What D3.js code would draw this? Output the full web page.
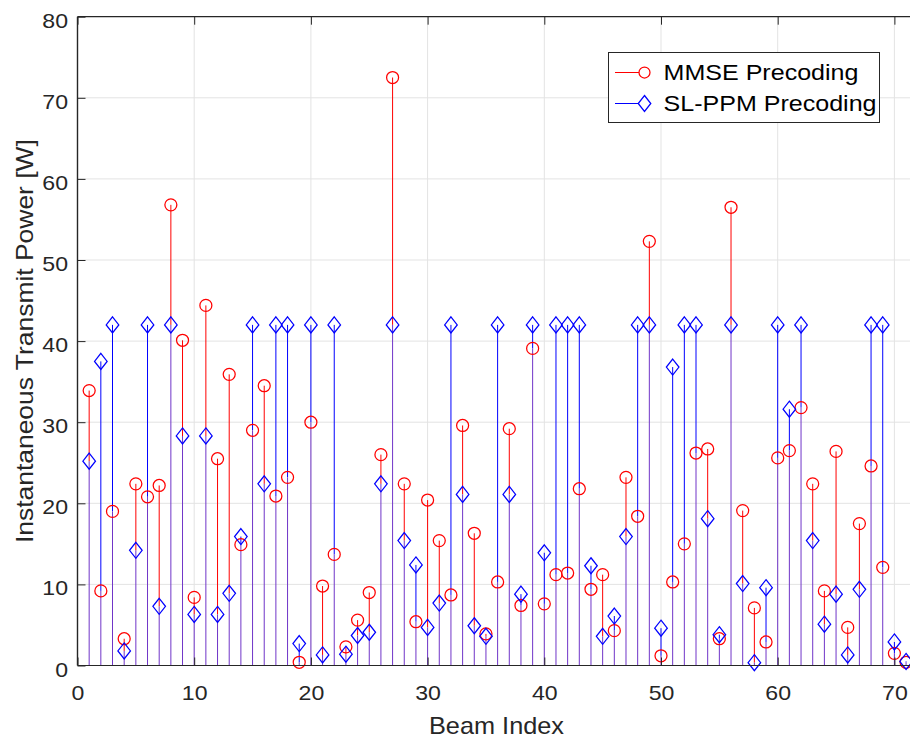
<!DOCTYPE html>
<html>
<head>
<meta charset="utf-8">
<script src="https://cdn.jsdelivr.net/npm/d3@7"></script>
<style>
  html, body { margin: 0; padding: 0; background: #fff; }
  svg { display: block; font-family: "Liberation Sans", Arial, sans-serif; }
</style>
</head>
<body>
<svg id="chart" width="910" height="739"></svg>
<script>
// Beam indices 1..71
const beams = d3.range(1, 72);

// Instantaneous transmit power per beam [W]
const mmsePower = [
  33.9, 9.2, 19.0, 3.3, 22.4, 20.8, 22.2, 56.8, 40.1, 8.4,
  44.4, 25.5, 35.9, 14.9, 29.0, 34.5, 20.9, 23.2, 0.4, 30.0,
  9.8, 13.7, 2.3, 5.6, 9.0, 26.0, 72.5, 22.4, 5.4, 20.4,
  15.4, 8.7, 29.6, 16.3, 3.9, 10.3, 29.2, 7.4, 39.1, 7.6,
  11.2, 11.4, 21.8, 9.4, 11.2, 4.3, 23.2, 18.4, 52.3, 1.2,
  10.3, 15.0, 26.2, 26.7, 3.3, 56.5, 19.1, 7.1, 2.9, 25.6,
  26.5, 31.8, 22.4, 9.2, 26.4, 4.7, 17.5, 24.6, 12.1, 1.5,
  0.4
];
const slppmPower = [
  25.2, 37.5, 42, 1.8, 14.2, 42, 7.3, 42, 28.3, 6.3,
  28.3, 6.3, 8.9, 15.9, 42, 22.4, 42, 42, 2.7, 42,
  1.3, 42, 1.4, 3.7, 4.1, 22.4, 42, 15.4, 12.4, 4.7,
  7.7, 42, 21.1, 4.9, 3.6, 42, 21.1, 8.8, 42, 13.9,
  42, 42, 42, 12.3, 3.6, 6.1, 15.9, 42, 42, 4.6,
  36.8, 42, 42, 18.1, 3.8, 42, 10.1, 0.35, 9.6, 42,
  31.6, 42, 15.4, 5.1, 8.8, 1.3, 9.4, 42, 42, 2.9,
  0.5
];

const xTicks = [0, 10, 20, 30, 40, 50, 60, 70];
const yTicks = [0, 10, 20, 30, 40, 50, 60, 70, 80];
const seriesNames = ["MMSE Precoding", "SL-PPM Precoding"];

(function draw() {
  const axisColor = "#262626";
  const red = "#ff0000", blue = "#0000ff", overlap = "#7035c8";

  const svg = d3.select("#chart");
  const pL = 77.5, pT = 16.7, pB = 665.5;
  const x = d3.scaleLinear().domain([0, 72]).range([pL, pL + 72 * 11.67]);
  const y = d3.scaleLinear().domain([0, 80]).range([pB, pT]);
  const pR = x(72);

  // grid
  const grid = svg.append("g");
  grid.selectAll("line.gx").data(xTicks.filter(d => d > 0)).join("line")
    .attr("x1", d => x(d)).attr("x2", d => x(d))
    .attr("y1", pT).attr("y2", pB)
    .attr("stroke", "#e3e3e3").attr("stroke-width", 1);
  grid.selectAll("line.gy").data(yTicks.filter(d => d > 0 && d < 80)).join("line")
    .attr("x1", pL).attr("x2", pR)
    .attr("y1", d => y(d)).attr("y2", d => y(d))
    .attr("stroke", "#e3e3e3").attr("stroke-width", 1);

  const rows = beams.map((b, i) => ({ b, m: mmsePower[i], s: slppmPower[i] }));

  // stems: exclusive upper parts in series colour, shared lower part in blend
  const stems = svg.append("g").attr("stroke-width", 1);
  stems.selectAll("line.r").data(rows.filter(d => d.m > d.s)).join("line")
    .attr("x1", d => x(d.b)).attr("x2", d => x(d.b))
    .attr("y1", d => y(d.s)).attr("y2", d => y(d.m)).attr("stroke", red);
  stems.selectAll("line.bl").data(rows.filter(d => d.s > d.m)).join("line")
    .attr("x1", d => x(d.b)).attr("x2", d => x(d.b))
    .attr("y1", d => y(d.m)).attr("y2", d => y(d.s)).attr("stroke", blue);
  stems.selectAll("line.ov").data(rows).join("line")
    .attr("x1", d => x(d.b)).attr("x2", d => x(d.b))
    .attr("y1", y(0)).attr("y2", d => y(Math.min(d.m, d.s))).attr("stroke", overlap);

  // markers
  const diamond = (cx, cy) => `M${cx},${cy - 8}L${cx + 6.3},${cy}L${cx},${cy + 8}L${cx - 6.3},${cy}Z`;
  svg.append("g").selectAll("circle").data(rows).join("circle")
    .attr("cx", d => x(d.b)).attr("cy", d => y(d.m)).attr("r", 6)
    .attr("fill", "none").attr("stroke", red).attr("stroke-width", 1.25);
  svg.append("g").selectAll("path").data(rows).join("path")
    .attr("d", d => diamond(x(d.b), y(d.s)))
    .attr("fill", "none").attr("stroke", blue).attr("stroke-width", 1.25);

  // axes box
  const ax = svg.append("g").attr("stroke", axisColor).attr("fill", "none");
  ax.append("line").attr("x1", pL).attr("x2", pR).attr("y1", pB).attr("y2", pB).attr("stroke-width", 1.2);
  ax.append("line").attr("x1", pL).attr("x2", pR).attr("y1", pT).attr("y2", pT).attr("stroke-width", 1.2);
  ax.append("line").attr("x1", pL).attr("x2", pL).attr("y1", pT).attr("y2", pB).attr("stroke-width", 1.4);

  // ticks (inward)
  const gxB = svg.append("g").attr("transform", `translate(0,${pB})`)
    .call(d3.axisBottom(x).tickValues(xTicks).tickSize(-8).tickFormat(d3.format("d")));
  gxB.select(".domain").remove();
  gxB.selectAll(".tick text").attr("y", 34.5).attr("dy", null);
  const gxT = svg.append("g").attr("transform", `translate(0,${pT})`)
    .call(d3.axisTop(x).tickValues(xTicks).tickSize(-8).tickFormat(""));
  gxT.select(".domain").remove();
  const gy = svg.append("g").attr("transform", `translate(${pL},0)`)
    .call(d3.axisLeft(y).tickValues(yTicks).tickSize(-8).tickFormat(d3.format("d")));
  gy.select(".domain").remove();
  gy.selectAll(".tick text").attr("x", -9.5).attr("dy", "0.5em");

  svg.selectAll(".tick line").attr("stroke", axisColor).attr("stroke-width", 1);
  svg.selectAll(".tick text").attr("fill", axisColor)
    .style("font-family", "'Liberation Sans', Arial, sans-serif").style("font-size", "21px")
    .attr("textLength", function () { return 12.85 * this.textContent.length; })
    .attr("lengthAdjust", "spacingAndGlyphs");

  // axis titles
  svg.append("text").attr("x", 496.5).attr("y", 734).attr("text-anchor", "middle")
    .attr("fill", axisColor).style("font-size", "24px")
    .attr("textLength", 135).attr("lengthAdjust", "spacingAndGlyphs")
    .text("Beam Index");
  svg.append("text").attr("transform", `translate(33,${(pT + pB) / 2}) rotate(-90)`)
    .attr("text-anchor", "middle").attr("fill", axisColor).style("font-size", "24px")
    .attr("textLength", 404).attr("lengthAdjust", "spacingAndGlyphs")
    .text("Instantaneous Transmit Power [W]");

  // legend
  const lg = svg.append("g");
  lg.append("rect").attr("x", 608.5).attr("y", 52.5).attr("width", 271).attr("height", 70)
    .attr("fill", "#fff").attr("stroke", axisColor).attr("stroke-width", 1);
  const legendItems = [
    { name: seriesNames[0], color: red, kind: "circle", cy: 72.5, w: 195 },
    { name: seriesNames[1], color: blue, kind: "diamond", cy: 103.5, w: 213 }
  ];
  legendItems.forEach(it => {
    lg.append("line").attr("x1", 615).attr("x2", 645).attr("y1", it.cy).attr("y2", it.cy)
      .attr("stroke", it.color).attr("stroke-width", 1);
    if (it.kind === "circle") {
      lg.append("circle").attr("cx", 644.5).attr("cy", it.cy).attr("r", 5.5)
        .attr("fill", "#fff").attr("stroke", it.color).attr("stroke-width", 1.25);
    } else {
      lg.append("path").attr("d", diamond(644.5, it.cy))
        .attr("fill", "#fff").attr("stroke", it.color).attr("stroke-width", 1.25);
    }
    lg.append("text").attr("x", 663.5).attr("y", it.cy + 7.5).attr("fill", "#000")
      .style("font-size", "22px")
      .attr("textLength", it.w).attr("lengthAdjust", "spacingAndGlyphs")
      .text(it.name);
  });
})();
</script>
</body>
</html>
